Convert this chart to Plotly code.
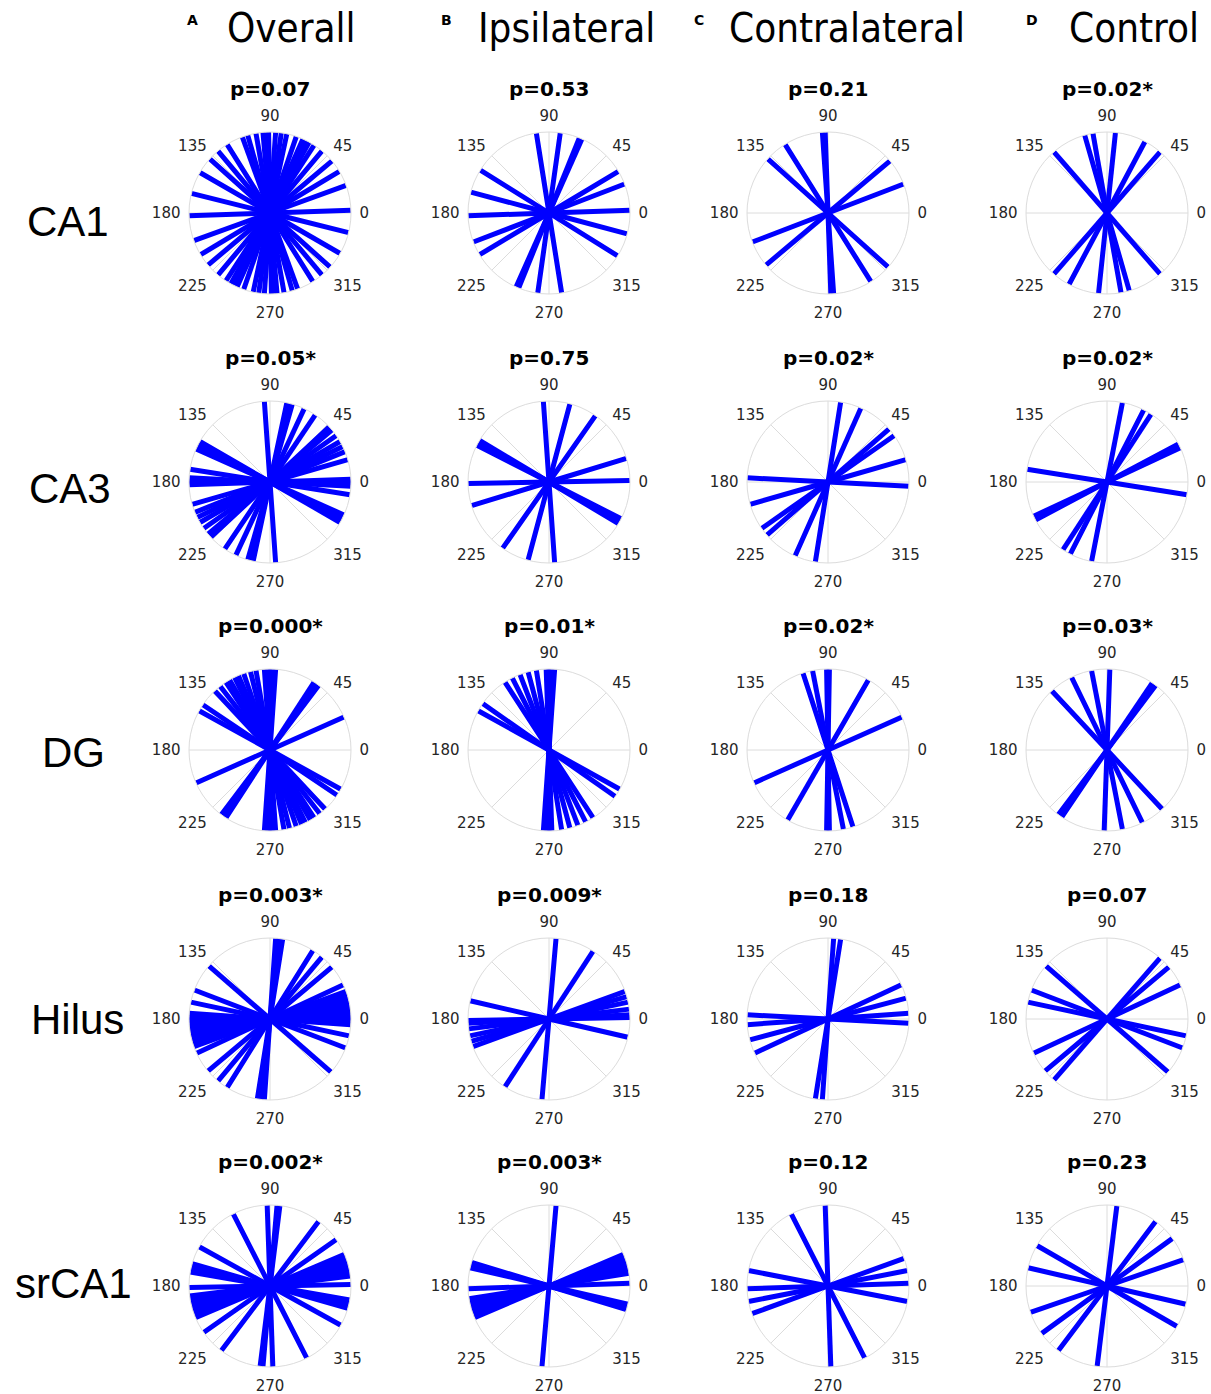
import plotly.graph_objects as go

# ---------------- data: axial orientations (degrees, 0-180) ----------------
regions = ["CA1", "CA3", "DG", "Hilus", "srCA1"]
groups = ["Overall", "Ipsilateral", "Contralateral", "Control"]
group_letters = ["A", "B", "C", "D"]
angle_ticks = [0, 45, 90, 135, 180, 225, 270, 315]

ca1_overall = [2, 20, 31, 40, 50, 57, 61, 64, 66, 71, 78, 82, 86, 91, 93, 95, 100, 106, 110, 122, 130, 138, 150, 166]
ca1_ipsi = [2, 21, 31, 66, 68, 82, 99, 148, 165]
ca1_contra = [21, 40, 92, 94, 122, 138]
ca1_control = [49, 62, 84, 100, 106, 131]

ca3_overall = [0, 2, 16, 22, 26, 30, 35, 40, 43, 56, 65, 74, 76, 78, 94, 150, 152, 154, 156, 171, 177]
ca3_ipsi = [1, 17, 55, 75, 94, 149, 151, 153]
ca3_contra = [16, 35, 41, 66, 81, 177]
ca3_control = [25, 28, 57, 63, 79, 171]

dg_overall = [24, 53, 55, 57, 86, 88, 90, 92, 94, 100, 104, 109, 113, 116, 120, 123, 128, 133, 146, 151]
dg_ipsi = [86, 88, 90, 92, 99, 105, 111, 117, 123, 145, 151]
dg_contra = [24, 60, 89, 91, 101, 108]
dg_control = [53, 56, 88, 101, 116, 133]

hilus_overall = [1, 3, 5, 8, 11, 14, 17, 20, 25, 40, 50, 58, 81, 84, 86, 139, 159, 168, 176, 179]
hilus_ipsi = [1, 3, 7, 12, 16, 20, 57, 85, 167]
hilus_contra = [4, 15, 25, 81, 86, 177]
hilus_control = [25, 40, 49, 139, 159, 168]

srca1_overall = [1, 7, 9, 11, 13, 15, 17, 19, 21, 23, 35, 53, 83, 85, 92, 117, 151, 164, 166, 168, 170]
srca1_ipsi = [2, 9, 12, 15, 17, 20, 23, 85, 163, 165, 167]
srca1_contra = [2, 11, 20, 92, 117, 169]
srca1_control = [19, 36, 53, 83, 150, 167]

p_ca1 = ["p=0.07", "p=0.53", "p=0.21", "p=0.02*"]
p_ca3 = ["p=0.05*", "p=0.75", "p=0.02*", "p=0.02*"]
p_dg = ["p=0.000*", "p=0.01*", "p=0.02*", "p=0.03*"]
p_hilus = ["p=0.003*", "p=0.009*", "p=0.18", "p=0.07"]
p_srca1 = ["p=0.002*", "p=0.003*", "p=0.12", "p=0.23"]

data = [
    [ca1_overall, ca1_ipsi, ca1_contra, ca1_control],
    [ca3_overall, ca3_ipsi, ca3_contra, ca3_control],
    [dg_overall, dg_ipsi, dg_contra, dg_control],
    [hilus_overall, hilus_ipsi, hilus_contra, hilus_control],
    [srca1_overall, srca1_ipsi, srca1_contra, srca1_control],
]
pvals = [p_ca1, p_ca3, p_dg, p_hilus, p_srca1]

# ---------------- layout geometry (page pixels) ----------------
W, H = 1211, 1394
col_cx = [270, 549, 828, 1107]
row_cy = [213, 482, 750, 1019, 1286]
R = 81


def px(x):
    return x / W


def py(y):
    return 1 - y / H


fig = go.Figure()
layout = dict(
    width=W, height=H, margin=dict(l=0, r=0, t=0, b=0),
    paper_bgcolor="white", plot_bgcolor="white", showlegend=False,
)
annotations = []

k = 0
for i, reg in enumerate(regions):
    for j, grp in enumerate(groups):
        k += 1
        name = "polar" if k == 1 else f"polar{k}"
        cx, cy = col_cx[j], row_cy[i]
        layout[name] = dict(
            domain=dict(x=[px(cx - R), px(cx + R)], y=[py(cy + R), py(cy - R)]),
            bgcolor="white",
            radialaxis=dict(visible=False, range=[0, 1]),
            angularaxis=dict(
                rotation=0, direction="counterclockwise",
                tickmode="array", tickvals=angle_ticks,
                ticktext=[str(a) for a in angle_ticks],
                ticks="outside", ticklen=5, tickcolor="rgba(0,0,0,0)",
                showgrid=True, gridcolor="#dcdcdc", gridwidth=1,
                showline=True, linecolor="#dcdcdc", linewidth=1,
                tickfont=dict(family="DejaVu Sans", size=15, color="#262626"),
            ),
        )
        rr, tt = [], []
        for a in data[i][j]:
            rr += [1, 0, 1, None]
            tt += [a, a, a + 180, None]
        fig.add_trace(go.Scatterpolar(
            r=rr, theta=tt, mode="lines", subplot=name,
            line=dict(color="#0000ff", width=5), hoverinfo="skip",
        ))
        annotations.append(dict(
            text=f"<b>{pvals[i][j]}</b>", x=px(cx), y=py(cy - 124),
            xref="paper", yref="paper", showarrow=False,
            xanchor="center", yanchor="middle",
            font=dict(family="DejaVu Sans", size=20, color="black"),
        ))

# column headers
head_x = [291, 566, 847, 1134]
letter_x = [193, 446, 699, 1032]
for j, grp in enumerate(groups):
    annotations.append(dict(
        text=grp, x=px(head_x[j]), y=py(28), xref="paper", yref="paper",
        showarrow=False, xanchor="center", yanchor="middle",
        font=dict(family="Liberation Sans Narrow, DejaVu Sans Condensed, sans-serif", size=40, color="black"),
    ))
    annotations.append(dict(
        text=f"<b>{group_letters[j]}</b>", x=px(letter_x[j]), y=py(20),
        xref="paper", yref="paper", showarrow=False, xanchor="center", yanchor="middle",
        font=dict(family="DejaVu Sans", size=14, color="black"),
    ))

# row labels
row_lx = [68, 70, 73, 77, 73]
row_ly = [222, 488, 752, 1019, 1283]
for i, reg in enumerate(regions):
    annotations.append(dict(
        text=reg, x=px(row_lx[i]), y=py(row_ly[i]), xref="paper", yref="paper",
        showarrow=False, xanchor="center", yanchor="middle",
        font=dict(family="Liberation Sans, Arial, sans-serif", size=42, color="black"),
    ))

layout["annotations"] = annotations
fig.update_layout(**layout)
fig.write_html(
    "out.html",
    config={"displayModeBar": False},
    post_script="document.body.style.margin='0';document.body.style.overflow='hidden';",
)
